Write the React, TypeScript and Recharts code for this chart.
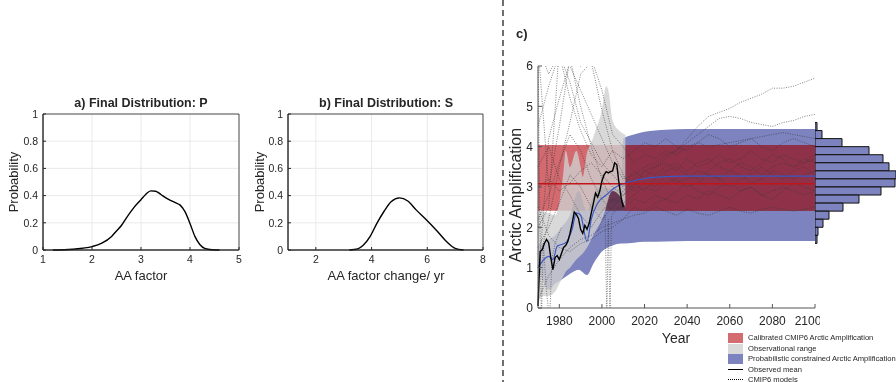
import React from "react";
import {
  Area,
  Bar,
  BarChart,
  CartesianGrid,
  ComposedChart,
  Line,
  LineChart,
  ReferenceArea,
  XAxis,
  YAxis,
} from "recharts";

const FONT = "'Liberation Sans', Arial, Helvetica, sans-serif";
const INK = "#262626";
const TICK = { fontSize: 10.5, fill: INK, fontFamily: FONT };
const TICK_C = { fontSize: 12, fill: INK, fontFamily: FONT };

// a) final distribution of P
const P_X = [1.2, 1.6, 2.0, 2.2, 2.4, 2.5, 2.6, 2.7, 2.85, 3.0, 3.1, 3.2, 3.3, 3.4, 3.5, 3.6, 3.7, 3.8, 3.9, 4.0, 4.1, 4.2, 4.3, 4.45, 4.6];
const P_Y = [0, 0.006, 0.025, 0.05, 0.1, 0.14, 0.18, 0.235, 0.31, 0.37, 0.41, 0.435, 0.432, 0.41, 0.385, 0.365, 0.348, 0.33, 0.28, 0.195, 0.1, 0.04, 0.012, 0.002, 0];
const P_TICKS = [1, 2, 3, 4, 5];

// b) final distribution of S
const S_X = [3.2, 3.5, 3.7, 3.95, 4.2, 4.45, 4.7, 5.0, 5.3, 5.6, 6.0, 6.35, 6.7, 7.0, 7.3];
const S_Y = [0, 0.008, 0.035, 0.1, 0.2, 0.285, 0.355, 0.383, 0.36, 0.295, 0.215, 0.14, 0.06, 0.012, 0];
const S_TICKS = [2, 4, 6, 8];

const PROB_TICKS = [0, 0.2, 0.4, 0.6, 0.8, 1];

// c) Arctic amplification through time
const YEAR_TICKS = [1980, 2000, 2020, 2040, 2060, 2080, 2100];
const AA_TICKS = [0, 1, 2, 3, 4, 5, 6];

const CAL_YEARS = [1970, 2100];
const CAL_LO = [2.41, 2.41];
const CAL_HI = [4.04, 4.04];
const CAL_MID = [3.08, 3.08];
// stretch of the calibrated band that sits over the constrained band
const OVERLAP_YEARS = [2011, 2100];

const OBS_YEARS = [1970, 1972, 1975, 1978, 1980, 1982, 1983, 1985, 1988, 1990, 1991, 1993, 1995, 1997, 2000, 2002, 2003, 2005, 2008, 2011];
const OBS_HI = [2.3, 2.4, 2.35, 2.3, 2.6, 3.4, 3.9, 3.5, 3.9, 3.5, 3.25, 3.85, 4.1, 4.4, 4.9, 5.5, 5.4, 4.65, 4.4, 4.3];
const OBS_LO = [0.1, 0.3, 0.3, 0.4, 0.6, 0.8, 0.9, 1.0, 1.2, 1.3, 1.35, 1.5, 1.7, 1.9, 2.2, 2.5, 2.7, 2.9, 2.8, 2.5];

const MEAN_YEARS = [];
for (let y = 1970; y <= 2010; y++) MEAN_YEARS.push(y);
const OBS_MEAN = [
  0.05, 1.4, 1.45, 1.6, 1.7, 1.62, 1.25, 0.95, 1.25, 1.3,
  1.2, 1.35, 1.5, 1.55, 1.65, 1.85, 2.1, 2.38, 2.32, 2.22,
  1.95, 1.85, 2.05, 1.95, 2.1, 2.35, 2.6, 2.85, 2.75, 2.9,
  3.15, 3.3, 3.38, 3.35, 3.38, 3.4, 3.6, 3.55, 3.1, 2.75,
  2.5,
];

const PROB_YEARS = [1970, 1972, 1975, 1978, 1981, 1985, 1989, 1993, 1996, 2000, 2005, 2009, 2010, 2015, 2020, 2030, 2040, 2060, 2080, 2100];
const PROB_HI = [1.5, 1.6, 1.7, 1.8, 2.0, 2.3, 2.9, 2.4, 2.8, 3.0, 2.95, 3.0, 4.2, 4.3, 4.37, 4.42, 4.44, 4.44, 4.44, 4.44];
const PROB_LO = [1.0, 0.7, 0.45, 0.6, 0.7, 0.85, 0.95, 0.82, 1.1, 1.4, 1.55, 1.6, 1.6, 1.62, 1.64, 1.65, 1.66, 1.66, 1.66, 1.66];
const PROB_MEAN_YEARS = [1970, 1975, 1977, 1979, 1983, 1986, 1988, 1990, 1993, 1995, 1998, 2002, 2006, 2010, 2017, 2027, 2040, 2060, 2100];
const PROB_MEAN = [1.0, 1.28, 1.2, 1.53, 1.62, 1.95, 2.36, 2.3, 1.65, 2.2, 2.6, 2.8, 2.98, 3.08, 3.18, 3.25, 3.27, 3.27, 3.27];

const MODEL_YEARS = [1970, 1975, 1980, 1985, 1990, 1995, 2000, 2005, 2010, 2015, 2020, 2025, 2030, 2035, 2040, 2045, 2050, 2055, 2060, 2065, 2070, 2075, 2080, 2085, 2090, 2095, 2100];
const MODEL_1 = [6.5, 3.0, 4.5, 6.2, 5.0, 4.0, 3.2, 2.6, 2.9, 3.2, 3.4, 3.5, 3.7, 3.9, 4.2, 4.5, 4.75, 4.85, 4.95, 5.1, 5.2, 5.3, 5.45, 5.45, 5.5, 5.6, 5.7];
const MODEL_2 = [2.0, 2.5, 6.5, 6.0, 5.4, 4.8, 4.2, 3.6, 3.2, 3.3, 3.5, 3.6, 3.8, 3.9, 4.1, 4.3, 4.5, 4.7, 4.75, 4.7, 4.6, 4.55, 4.5, 4.6, 4.65, 4.75, 4.8];
const MODEL_3 = [0.5, 4.2, 5.2, 6.1, 6.0, 6.2, 5.4, 4.3, 4.0, 3.6, 3.8, 3.7, 3.9, 3.8, 4.0, 4.1, 4.0, 4.05, 4.1, 4.15, 4.2, 4.25, 4.3, 4.35, 4.3, 4.25, 4.2];
const MODEL_4 = [6.5, 5.8, 6.3, 5.6, 4.6, 4.1, 3.6, 3.3, 3.0, 3.4, 3.2, 3.5, 3.6, 3.4, 3.7, 3.5, 3.6, 3.8, 3.6, 3.7, 3.9, 3.7, 3.6, 3.8, 3.7, 3.6, 3.7];
const MODEL_5 = [1.0, 2.2, 3.5, 4.6, 5.8, 6.1, 4.9, 3.9, 3.3, 2.9, 3.1, 3.0, 3.3, 3.1, 3.2, 3.4, 3.3, 3.2, 3.4, 3.3, 3.1, 3.2, 3.4, 3.3, 3.2, 3.3, 3.4];
const MODEL_6 = [2.5, 1.8, 1.5, 1.4, 1.6, 1.7, 1.9, 2.0, 2.2, 2.5, 2.4, 2.6, 2.7, 2.6, 2.8, 2.7, 2.9, 2.8, 2.7, 2.9, 3.0, 2.8, 2.9, 3.0, 2.9, 2.8, 2.9];
const MODEL_7 = [0.2, 0.8, 1.2, 1.5, 1.7, 1.8, 2.0, 2.1, 2.2, 2.3, 2.35, 2.5, 2.4, 2.3, 2.45, 2.35, 2.3, 2.4, 2.5, 2.4, 2.35, 2.45, 2.5, 2.45, 2.4, 2.45, 2.5];
const MODEL_8 = [3.5, 4.0, 3.2, 2.8, 2.3, 2.0, 2.4, 2.7, 2.6, 2.8, 3.0, 2.9, 3.1, 3.2, 3.0, 3.1, 3.3, 3.2, 3.0, 3.2, 3.3, 3.5, 3.3, 3.2, 3.4, 3.5, 3.3];
const MODEL_9 = [1.5, 2.0, 2.6, 3.3, 3.0, 2.5, 2.2, 2.5, 2.8, 3.0, 3.4, 3.3, 3.5, 3.6, 3.4, 3.6, 3.7, 3.5, 3.4, 3.6, 3.5, 3.3, 3.5, 3.6, 3.5, 3.7, 3.6];
const MODEL_10 = [3.0, 3.2, 2.9, 3.1, 3.4, 3.6, 3.3, 3.0, 2.8, 3.1, 2.9, 3.2, 3.4, 3.5, 3.3, 3.2, 3.4, 3.6, 3.7, 3.5, 3.4, 3.6, 3.8, 3.7, 3.5, 3.6, 3.8];
const MODEL_11 = [2.2, 2.8, 3.6, 4.3, 3.9, 3.2, 2.7, 2.4, 2.5, 2.7, 2.6, 2.8, 2.7, 2.9, 3.1, 2.9, 2.8, 3.0, 3.1, 2.9, 3.0, 2.8, 2.7, 2.9, 3.1, 3.0, 2.9];
const MODEL_12 = [4.5, 5.5, 6.3, 5.2, 4.4, 3.8, 3.5, 3.9, 3.7, 3.9, 4.1, 4.0, 4.2, 4.0, 3.9, 4.1, 4.3, 4.2, 4.0, 4.1, 4.2, 4.0, 3.9, 4.1, 4.2, 4.1, 4.0];
const SPIKE_A_YEARS = [1970, 1970.8, 1971.6, 1972.5, 1974, 1975.5, 1976.5, 1978, 1981];
const SPIKE_A = [6.5, 2.5, -0.3, 1.6, 0.4, -0.3, 1.2, 1.6, 2.0];
const SPIKE_B_YEARS = [1998, 2001.5, 2002.3, 2003, 2003.8, 2004.5, 2008];
const SPIKE_B = [1.9, 2.3, -0.3, 2.2, -0.3, 2.3, 2.5];

// histogram of calibrated AA (right margin)
const HIST_BINS = [4.5, 4.3, 4.1, 3.9, 3.7, 3.5, 3.3, 3.1, 2.9, 2.7, 2.5, 2.3, 2.1, 1.9, 1.7];
const HIST_COUNTS = [2, 7, 27, 54, 68, 74, 81, 80, 66, 44, 28, 14, 8, 3, 2];

const RED = "#d36a6f";
const MAROON = "#8f3249";
const BLUE = "#7c83be";

const LEGEND = [
  { label: "Calibrated CMIP6 Arctic Amplification", kind: "patch", color: "#d46b70" },
  { label: "Observational range", kind: "patch", color: "#d9d9d9" },
  { label: "Probabilistic constrained Arctic Amplification", kind: "patch", color: BLUE },
  { label: "Observed mean", kind: "line", color: "#000" },
  { label: "CMIP6 models", kind: "dots", color: "#000" },
];

const pts = (xs: number[], ys: number[]) => xs.map((x, i) => ({ x, y: ys[i] }));
const band = (xs: number[], lo: number[], hi: number[]) =>
  xs.map((x, i) => ({ x, r: [lo[i], hi[i]] }));

function Txt({ x, y, size, bold, rotate, children, anchor = "middle" }: any) {
  const tx = anchor === "middle" ? "-50%" : "0";
  return (
    <div
      style={{
        position: "absolute",
        left: x,
        top: y,
        fontSize: size,
        fontWeight: bold ? 700 : 400,
        lineHeight: 1,
        whiteSpace: "nowrap",
        color: INK,
        transform: `translate(${tx}, -50%)${rotate ? " rotate(-90deg)" : ""}`,
      }}
    >
      {children}
    </div>
  );
}

function DistPanel({ xs, ys, domain, ticks, left, width }: any) {
  const rows = xs.map((x: number, i: number) => ({ x, p: ys[i] }));
  return (
    <div style={{ position: "absolute", left, top: 90 }}>
      <LineChart width={width} height={190} data={rows} margin={{ top: 24, right: 10, left: 0, bottom: 0 }}>
        <CartesianGrid stroke="#e4e4e4" strokeWidth={0.8} />
        <XAxis
          type="number"
          dataKey="x"
          domain={domain}
          ticks={ticks}
          allowDataOverflow
          tick={TICK}
          tickSize={-3}
          tickMargin={9}
          stroke={INK}
          height={30}
        />
        <YAxis
          type="number"
          domain={[0, 1]}
          ticks={PROB_TICKS}
          tick={TICK}
          tickSize={-3}
          tickMargin={8}
          stroke={INK}
          width={43}
        />
        <ReferenceArea x1={domain[0]} x2={domain[1]} y1={0} y2={1} fill="none" stroke={INK} strokeWidth={0.8} />
        <Line dataKey="p" type="monotone" stroke="#000" strokeWidth={1.4} dot={false} isAnimationActive={false} />
      </LineChart>
    </div>
  );
}

const models = [
  MODEL_1, MODEL_2, MODEL_3, MODEL_4, MODEL_5, MODEL_6,
  MODEL_7, MODEL_8, MODEL_9, MODEL_10, MODEL_11, MODEL_12,
].map((m) => pts(MODEL_YEARS, m));
models.push(pts(SPIKE_A_YEARS, SPIKE_A), pts(SPIKE_B_YEARS, SPIKE_B));

export default function App() {
  const histRows = HIST_BINS.map((aa, i) => ({ aa, count: HIST_COUNTS[i] }));
  return (
    <div
      style={{
        position: "absolute",
        left: 0,
        top: 0,
        width: 896,
        height: 382,
        overflow: "hidden",
        background: "#fff",
        fontFamily: FONT,
      }}
    >
      <style>{`path[fill="${RED}"] { mix-blend-mode: multiply; }`}</style>

      {/* a) and b) */}
      <DistPanel xs={P_X} ys={P_Y} domain={[1, 5]} ticks={P_TICKS} left={0} width={249} />
      <DistPanel xs={S_X} ys={S_Y} domain={[1, 8]} ticks={S_TICKS} left={245} width={248} />
      <Txt x={141} y={103} size={12.5} bold>a) Final Distribution: P</Txt>
      <Txt x={386} y={103} size={12.5} bold>b) Final Distribution: S</Txt>
      <Txt x={13} y={182} size={13} rotate>Probability</Txt>
      <Txt x={259} y={182} size={13} rotate>Probability</Txt>
      <Txt x={141} y={275} size={13}>AA factor</Txt>
      <Txt x={386} y={275} size={13}>AA factor change/ yr</Txt>

      {/* separator */}
      <svg style={{ position: "absolute", left: 0, top: 0 }} width={896} height={382}>
        <line x1={503} y1={0} x2={503} y2={382} stroke="#333" strokeWidth={1.4} strokeDasharray="6 4" />
      </svg>

      {/* c) */}
      <Txt x={516} y={33} size={13} bold anchor="start">c)</Txt>
      <div style={{ position: "absolute", left: 505, top: 50 }}>
        <ComposedChart width={315} height={288} margin={{ top: 16, right: 5, left: 0, bottom: 0 }}>
          <XAxis
            type="number"
            dataKey="x"
            domain={[1970, 2100]}
            ticks={YEAR_TICKS}
            tick={TICK_C}
            tickSize={-4}
            tickMargin={12}
            stroke="#555"
            height={30}
          />
          <XAxis
            xAxisId="top"
            orientation="top"
            type="number"
            domain={[1970, 2100]}
            ticks={YEAR_TICKS}
            tick={false}
            tickSize={-4}
            stroke="#555"
            height={0}
          />
          <YAxis
            type="number"
            domain={[0, 6]}
            ticks={AA_TICKS}
            tick={TICK_C}
            tickSize={-4}
            tickMargin={9}
            stroke="#555"
            width={33}
          />
          <YAxis
            yAxisId="right"
            orientation="right"
            type="number"
            domain={[0, 6]}
            ticks={AA_TICKS}
            tick={false}
            tickSize={-4}
            stroke="#555"
            width={0}
          />
          {/* same scale as the left axis, but clipping lines that run off the plot */}
          <YAxis yAxisId="clip" type="number" domain={[0, 6]} allowDataOverflow hide />
          <Area
            data={band(PROB_YEARS, PROB_LO, PROB_HI)}
            dataKey="r"
            type="monotone"
            stroke="none"
            fill={BLUE}
            fillOpacity={1}
            isAnimationActive={false}
          />
          <Area
            data={band(CAL_YEARS, CAL_LO, CAL_HI)}
            dataKey="r"
            type="linear"
            stroke="none"
            fill={RED}
            fillOpacity={1}
            isAnimationActive={false}
          />
          <Area
            data={band(OVERLAP_YEARS, CAL_LO, CAL_HI)}
            dataKey="r"
            type="linear"
            stroke="none"
            fill={MAROON}
            fillOpacity={1}
            isAnimationActive={false}
          />
          <Area
            data={band(OBS_YEARS, OBS_LO, OBS_HI)}
            dataKey="r"
            type="monotone"
            stroke="none"
            fill="#cfcfcf"
            fillOpacity={0.8}
            isAnimationActive={false}
          />
          {models.map((m, i) => (
            <Line
              key={i}
              yAxisId="clip"
              data={m}
              dataKey="y"
              type="linear"
              stroke="#3a3a3a"
              strokeOpacity={0.7}
              strokeWidth={0.9}
              strokeDasharray="1 1.4"
              dot={false}
              isAnimationActive={false}
            />
          ))}
          <Line
            data={pts(PROB_MEAN_YEARS, PROB_MEAN)}
            dataKey="y"
            type="monotone"
            stroke="#3b58c4"
            strokeWidth={1.2}
            dot={false}
            isAnimationActive={false}
          />
          <Line
            data={pts(CAL_YEARS, CAL_MID)}
            dataKey="y"
            type="linear"
            stroke="#c2141b"
            strokeWidth={1.3}
            dot={false}
            isAnimationActive={false}
          />
          <Line
            yAxisId="clip"
            data={pts(MEAN_YEARS, OBS_MEAN)}
            dataKey="y"
            type="linear"
            stroke="#000"
            strokeWidth={1.4}
            dot={false}
            isAnimationActive={false}
          />
        </ComposedChart>
      </div>
      <Txt x={516} y={195} size={16} rotate>Arctic Amplification</Txt>
      <Txt x={676} y={338} size={14}>Year</Txt>

      {/* marginal histogram */}
      <div style={{ position: "absolute", left: 815, top: 66 }}>
        <BarChart width={83} height={242} layout="vertical" data={histRows} margin={{ top: 0, right: 1, left: 0, bottom: 0 }}>
          <XAxis type="number" domain={[0, 82]} hide />
          <YAxis type="number" dataKey="aa" domain={[0, 6]} reversed hide />
          <Bar dataKey="count" barSize={8} fill={BLUE} stroke="#111" strokeWidth={1} isAnimationActive={false} />
        </BarChart>
      </div>

      {/* legend */}
      {LEGEND.map((e, i) => {
        const y = 338 + i * 10.5;
        return (
          <div key={e.label}>
            {e.kind === "patch" ? (
              <div style={{ position: "absolute", left: 728, top: y - 5, width: 15, height: 10, background: e.color }} />
            ) : (
              <div
                style={{
                  position: "absolute",
                  left: 728,
                  top: y - 1,
                  width: 15,
                  height: 0,
                  borderTop: `1.5px ${e.kind === "dots" ? "dotted" : "solid"} ${e.color}`,
                }}
              />
            )}
            <Txt x={748} y={y} size={7.6} anchor="start">{e.label}</Txt>
          </div>
        );
      })}
    </div>
  );
}
